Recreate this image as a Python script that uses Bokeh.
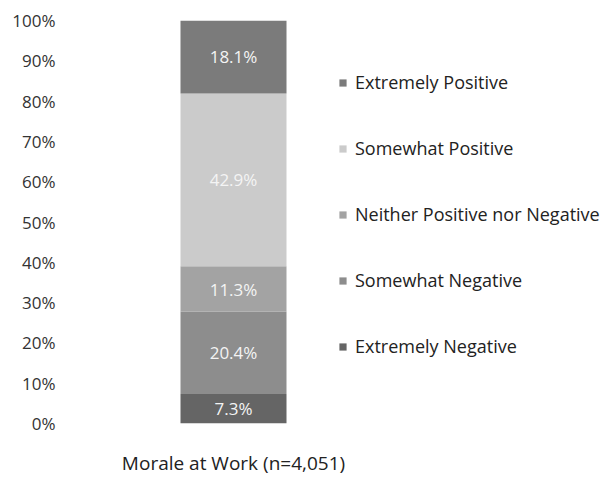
from bokeh.plotting import figure
from bokeh.models import (Range1d, FixedTicker, PrintfTickFormatter, Legend, LegendItem,
                          ColumnDataSource, LabelSet)
from bokeh.core.properties import value
from bokeh.embed import file_html
from bokeh.resources import INLINE
import numpy as np

categories = ["Morale at Work (n=4,051)"]
series = ["Extremely Negative", "Somewhat Negative", "Neither Positive nor Negative",
          "Somewhat Positive", "Extremely Positive"]
values = [7.3, 20.4, 11.3, 42.9, 18.1]
colors = ["#656565", "#8d8d8d", "#a3a3a3", "#cbcbcb", "#7b7b7b"]
y_ticks = [0, 10, 20, 30, 40, 50, 60, 70, 80, 90, 100]

FONT = "Open Sans"

p = figure(width=608, height=478, output_backend="svg", toolbar_location=None,
           x_range=Range1d(-167 / 106, 375 / 106), y_range=Range1d(0, 100),
           min_border_left=66, min_border_right=0, min_border_top=20, min_border_bottom=45)

xs = list(range(len(categories)))
data = {"x": xs}
for s, v in zip(series, values):
    data[s] = [v]
src = ColumnDataSource(data)
rends = p.vbar_stack(series, x="x", width=1.0, color=colors, source=src, line_color=None)

# segment labels
bottoms = np.concatenate([[0], np.cumsum(values)[:-1]])
mids = bottoms + np.array(values) / 2
lab_src = ColumnDataSource(dict(x=[xs[0]] * len(values), y=list(mids),
                                t=["%.1f%%" % v for v in values]))
p.add_layout(LabelSet(x="x", y="y", text="t", source=lab_src, text_align="center",
                      text_baseline="middle", text_color="#f4f4f4", text_font_size="17px",
                      text_font=value(FONT)))

# axes
p.yaxis.ticker = FixedTicker(ticks=y_ticks)
p.yaxis.formatter = PrintfTickFormatter(format="%d%%")
p.yaxis.axis_line_color = None
p.yaxis.major_tick_line_color = None
p.yaxis.minor_tick_line_color = None
p.yaxis.major_label_standoff = 5
p.yaxis.major_label_text_font = FONT
p.yaxis.major_label_text_font_size = "17px"
p.yaxis.major_label_text_color = "#333333"

p.xaxis.ticker = FixedTicker(ticks=xs)
p.xaxis.major_label_overrides = {i: c for i, c in zip(xs, categories)}
p.xaxis.axis_line_color = None
p.xaxis.major_tick_line_color = None
p.xaxis.minor_tick_line_color = None
p.xaxis.major_label_standoff = 20
p.xaxis.major_label_text_font = FONT
p.xaxis.major_label_text_font_size = "19px"
p.xaxis.major_label_text_color = "#222222"

p.xgrid.visible = False
p.ygrid.visible = False
p.outline_line_color = None

items = [LegendItem(label=s, renderers=[r]) for s, r in zip(series, rends)][::-1]
legend = Legend(items=items, location=(272, 64), orientation="vertical",
                label_text_font=FONT, label_text_font_size="18px", label_text_color="#222222",
                glyph_width=9, glyph_height=9, label_height=26, spacing=40,
                label_standoff=8, padding=0, margin=0,
                border_line_color=None, background_fill_alpha=0)
p.add_layout(legend, "center")

open("out.html", "w").write(file_html(p, INLINE))
